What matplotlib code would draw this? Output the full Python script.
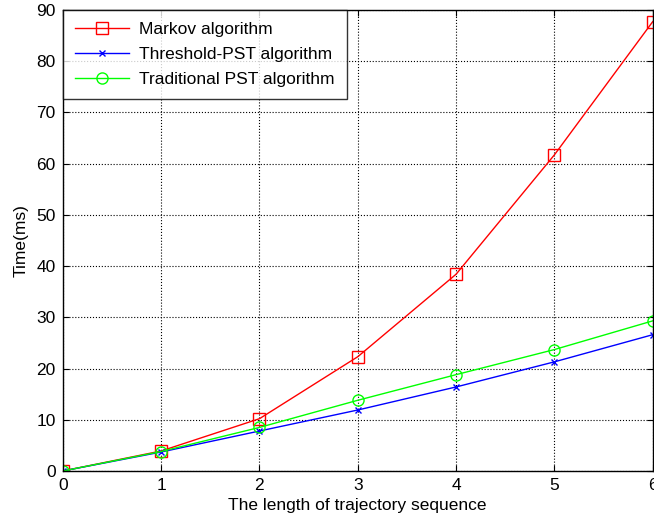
import matplotlib
matplotlib.use("Agg")
import matplotlib.pyplot as plt

plt.rcParams['font.family'] = ['Liberation Sans', 'DejaVu Sans']

# data
seq_len = [0, 1, 2, 3, 4, 5, 6]
markov = [0, 3.9, 10.2, 22.3, 38.4, 61.7, 87.7]
threshold_pst = [0, 3.7, 7.8, 11.9, 16.4, 21.3, 26.6]
traditional_pst = [0, 3.8, 8.5, 13.8, 18.8, 23.7, 29.3]

fig = plt.figure(figsize=(6.54, 5.21), dpi=100)
ax = fig.add_axes([0.096, 0.096, 0.902, 0.885])

ax.plot(seq_len, markov, color='#ff0000', marker='s', markersize=8.5,
        markerfacecolor='none', linewidth=1, label='Markov algorithm')
ax.plot(seq_len, threshold_pst, color='#0000ff', marker='x', markersize=5,
        linewidth=1, label='Threshold-PST algorithm')
ax.plot(seq_len, traditional_pst, color='#00ff00', marker='o', markersize=8,
        markerfacecolor='none', linewidth=1, label='Traditional PST algorithm')

ax.set_xlim(0, 6)
ax.set_ylim(0, 90)
ax.set_xticks(range(0, 7))
ax.set_yticks(range(0, 91, 10))
ax.grid(True, color='black', linestyle=':', linewidth=0.8)
ax.tick_params(direction='in', top=True, right=True, labelsize=12.5, length=4,
               pad=5)
for s in ax.spines.values():
    s.set_linewidth(1)

ax.set_xlabel('The length of trajectory sequence', fontsize=12.5, labelpad=4)
ax.set_ylabel('Time(ms)', fontsize=12.5, labelpad=6)

leg = ax.legend(loc='upper left', fontsize=12.5, frameon=True, fancybox=False,
                edgecolor='black', borderaxespad=0, handlelength=3.1,
                labelspacing=0.55, borderpad=0.7, handletextpad=0.6)
leg.get_frame().set_linewidth(1)

fig.savefig('out.png', dpi=100)
